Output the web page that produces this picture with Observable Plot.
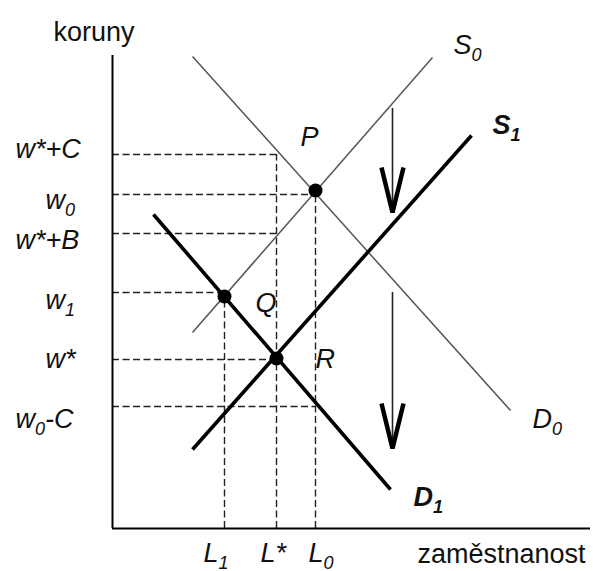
<!DOCTYPE html>
<html><head><meta charset="utf-8">
<script src="https://cdn.jsdelivr.net/npm/d3@7"></script>
<script src="https://cdn.jsdelivr.net/npm/@observablehq/plot@0.6"></script>
<style>html,body{margin:0;padding:0;background:#fff;}</style>
</head><body><div id="chart"></div>
<script>
// ---- data ----
// wage levels on the vertical axis (koruny)
const yLevelNames  = ["w*+C", "w_{0}", "w*+B", "w_{1}", "w*", "w_{0}-C"];
const yLevelValues = [37.4, 33.4, 29.5, 23.6, 16.9, 12.2];
const yLevelReach  = ["L*", "L_{0}", "L*", "L_{1}", "L*", "L_{0}"];
// employment levels on the horizontal axis (zaměstnanost)
const xLevelNames  = ["L_{1}", "L*", "L_{0}"];
const xLevelValues = [11.2, 16.4, 20.3];
const xLevelReach  = ["w_{1}", "w*+C", "w_{0}"];
// supply / demand curves (straight segments)
const curveNames = ["S_{0}", "D_{0}", "S_{1}", "D_{1}"];
const curveX1 = [8.0, 8.0, 8.0, 4.1];
const curveY1 = [19.6, 47.2, 7.9, 31.4];
const curveX2 = [32.0, 39.8, 35.9, 27.8];
const curveY2 = [47.1, 11.8, 39.3, 3.9];
const curveShifted = [false, false, true, true];
// equilibrium points
const pointNames = ["P", "Q", "R"];
const pointX = [20.3, 11.2, 16.4];
const pointY = [33.8, 23.2, 17.0];
// downward shift arrows
const arrowX    = [28.0, 28.0];
const arrowFrom = [42.0, 23.6];
const arrowTo   = [31.6, 8.0];
const arrowHeadLen  = 4.5;
const arrowHeadHalf = 1.1;
// axis extents
const axisMaxX = 47.8, axisMaxY = 47.3;
const axisTitleY = "koruny";
const axisTitleX = "zaměstnanost";

// ---- styling / layout ----
const FONT = "'Liberation Sans', Arial, Helvetica, sans-serif";
const FS = 27, SUB_FS = 18, SUB_SHIFT = 7;
const INK = "#111";
const yLabelDx = [-97, -67, -97, -67, -67, -97];
const yLabelDy = [3, 14, 15, 16, 8, 21];
const xLabelDx = [-21, -16, -7];
const xLabelDy = 33;
const curveLabelDx = [21, 22, 21, 23];
const curveLabelDy = [-4, 17, -2, 16];
const pointLabelDx = [-15, 31, 39];
const pointLabelDy = [-45, 15, 9];

const xOf = Object.fromEntries(xLevelNames.map((n, i) => [n, xLevelValues[i]]));
const yOf = Object.fromEntries(yLevelNames.map((n, i) => [n, yLevelValues[i]]));
const hLevels = yLevelNames.map((n, i) => ({name: n, y: yLevelValues[i], xEnd: xOf[yLevelReach[i]], dx: yLabelDx[i], dy: yLabelDy[i]}));
const vLevels = xLevelNames.map((n, i) => ({name: n, x: xLevelValues[i], yEnd: yOf[xLevelReach[i]], dx: xLabelDx[i]}));
const curves = curveNames.map((n, i) => ({name: n, x1: curveX1[i], y1: curveY1[i], x2: curveX2[i], y2: curveY2[i], shifted: curveShifted[i], dx: curveLabelDx[i], dy: curveLabelDy[i]}));
const points = pointNames.map((n, i) => ({name: n, x: pointX[i], y: pointY[i], dx: pointLabelDx[i], dy: pointLabelDy[i]}));
const arrows = arrowX.map((x, i) => ({id: i, x, from: arrowFrom[i], to: arrowTo[i]}));
const heads = arrows.flatMap(a => [
  {id: a.id, x: a.x - arrowHeadHalf, y: a.to + arrowHeadLen},
  {id: a.id, x: a.x, y: a.to},
  {id: a.id, x: a.x + arrowHeadHalf, y: a.to + arrowHeadLen}
]);

const dashed = {stroke: "#222", strokeWidth: 1.4, strokeDasharray: "7,3.5"};
const textBase = {fill: INK, fontSize: FS, lineAnchor: "bottom", fontFamily: FONT};

const marks = [
  // dashed guide lines
  Plot.ruleY(hLevels, {y: "y", x1: 0, x2: "xEnd", ...dashed}),
  Plot.ruleX(vLevels, {x: "x", y1: 0, y2: "yEnd", ...dashed}),
  // curves
  Plot.link(curves.filter(d => !d.shifted), {x1: "x1", y1: "y1", x2: "x2", y2: "y2", stroke: "#555", strokeWidth: 1.5}),
  Plot.link(curves.filter(d => d.shifted), {x1: "x1", y1: "y1", x2: "x2", y2: "y2", stroke: "#000", strokeWidth: 3.6}),
  // arrows
  Plot.ruleX(arrows, {x: "x", y1: "from", y2: d => d.to + 0.4, stroke: "#222", strokeWidth: 1.6}),
  Plot.line(heads, {x: "x", y: "y", z: "id", stroke: "#000", strokeWidth: 4.5, strokeLinejoin: "miter", strokeLinecap: "butt"}),
  // axes
  Plot.ruleX([0], {y1: 0, y2: axisMaxY, stroke: "#000", strokeWidth: 2}),
  Plot.ruleY([0], {x1: 0, x2: axisMaxX, stroke: "#000", strokeWidth: 2}),
  // equilibrium dots
  Plot.dot(points, {x: "x", y: "y", r: 7, fill: "#000", stroke: null}),
  // labels
  ...hLevels.map(d => Plot.text([d], {x: 0, y: "y", text: "name", textAnchor: "start", dx: d.dx, dy: d.dy, fontStyle: "italic", ...textBase})),
  ...vLevels.map(d => Plot.text([d], {x: "x", y: 0, text: "name", textAnchor: "start", dx: d.dx, dy: xLabelDy, fontStyle: "italic", ...textBase})),
  ...curves.map(d => Plot.text([d], {x: "x2", y: "y2", text: "name", textAnchor: "start", dx: d.dx, dy: d.dy, fontStyle: "italic", fontWeight: d.shifted ? "bold" : "normal", ...textBase})),
  ...points.map(d => Plot.text([d], {x: "x", y: "y", text: "name", textAnchor: "start", dx: d.dx, dy: d.dy, fontStyle: "italic", ...textBase})),
  Plot.text([axisTitleY], {x: 0, y: axisMaxY, text: d => d, textAnchor: "start", dx: -59, dy: -15, ...textBase}),
  Plot.text([axisTitleX], {x: axisMaxX, y: 0, text: d => d, textAnchor: "end", dx: -5, dy: 34, ...textBase})
];

const svg = Plot.plot({
  width: 593, height: 571,
  marginLeft: 112, marginRight: 3, marginTop: 55, marginBottom: 43,
  x: {domain: [0, axisMaxX], axis: null},
  y: {domain: [0, axisMaxY], axis: null},
  style: {fontFamily: FONT, background: "#fff", overflow: "visible"},
  marks
});

// render "_{..}" as real subscript tspans
d3.select(svg).selectAll("text").each(function() {
  const s = this.textContent;
  if (!s.includes("_{")) return;
  const parts = s.split(/(_\{[^}]*\})/).filter(p => p);
  this.textContent = "";
  let shifted = false;
  for (const p of parts) {
    const t = document.createElementNS("http://www.w3.org/2000/svg", "tspan");
    if (p.startsWith("_{")) {
      t.textContent = p.slice(2, -1);
      t.setAttribute("font-size", SUB_FS);
      t.setAttribute("dy", SUB_SHIFT);
      shifted = true;
    } else {
      t.textContent = p;
      if (shifted) { t.setAttribute("dy", -SUB_SHIFT); shifted = false; }
    }
    this.appendChild(t);
  }
});

document.getElementById("chart").appendChild(svg);
</script>
</body></html>
